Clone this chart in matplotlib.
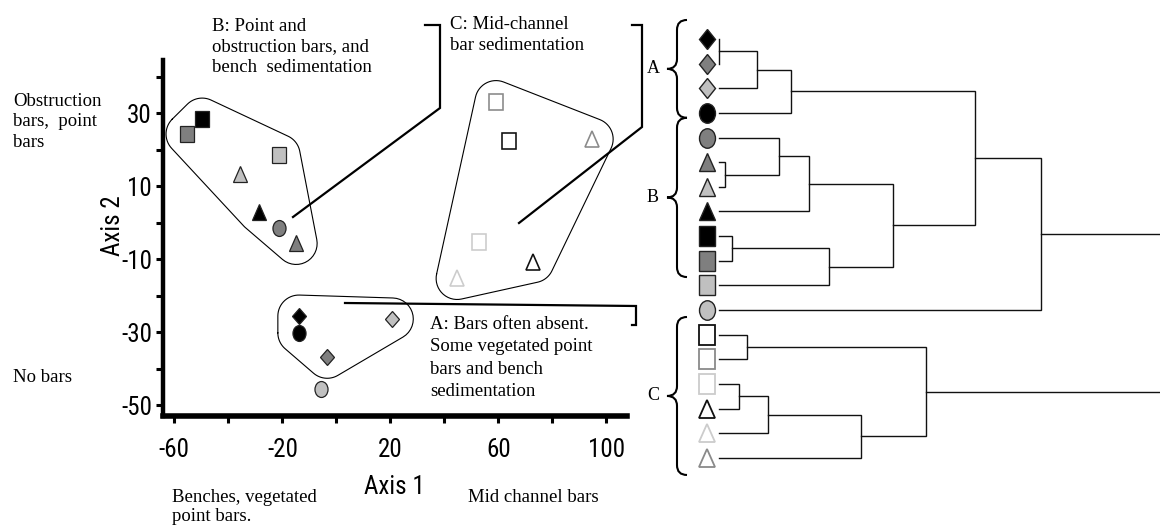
import numpy as np
import matplotlib
matplotlib.use('Agg')
import matplotlib.pyplot as plt
from matplotlib import font_manager
from matplotlib.markers import MarkerStyle
from matplotlib.transforms import Affine2D
from matplotlib.path import Path
from matplotlib.patches import PathPatch
from matplotlib.lines import Line2D

# a condensed sans for the axis numbers if one is around, else plain Liberation Sans
installed = {f.name for f in font_manager.fontManager.ttflist}
narrow = next((f for f in ['Liberation Sans Narrow', 'Arial Narrow', 'Roboto Condensed',
                           'Open Sans Condensed'] if f in installed), None)
if narrow:
    SANS, NUM_SIZE = narrow, 18
else:
    SANS, NUM_SIZE = 'Liberation Sans', 15
plt.rcParams['font.family'] = [SANS, 'DejaVu Sans']
plt.rcParams['axes.unicode_minus'] = False
SERIF = ['Liberation Serif', 'DejaVu Serif']

# ordination scores per site, same order as the dendrogram leaves (top to bottom)
axis1 = [-13.9, -3.4, 20.7, -13.9, -21.2, -14.9, -35.7, -28.6, -49.7, -55.3,
         -21.2, -5.8, 64.0, 59.1, 52.9, 72.8, 44.7, 94.7]
axis2 = [-25.6, -36.9, -26.4, -30.2, -1.5, -5.7, 13.4, 3.0, 28.4, 24.3,
         18.5, -45.5, 22.5, 33.2, -5.4, -10.7, -15.3, 22.9]
shapes = ['D', 'D', 'D', 'o', 'o', '^', '^', '^', 's', 's',
          's', 'o', 's', 's', 's', '^', '^', '^']
shades = ['black', 'dark', 'light', 'black', 'dark', 'dark', 'light', 'black', 'black', 'dark',
          'light', 'light', 'black', 'dark', 'light', 'black', 'light', 'dark']
hollow = [False] * 12 + [True] * 6
groups = ['A'] * 4 + ['B'] * 7 + [None] + ['C'] * 6

# clustering: (cluster, cluster, distance); leaves 0-17, new clusters numbered from 18
linkage = [
    (0, 1, 0.00),
    (18, 2, 0.38),
    (19, 3, 0.72),
    (5, 6, 0.06),
    (4, 21, 0.60),
    (22, 7, 0.90),
    (8, 9, 0.13),
    (24, 10, 1.10),
    (23, 25, 1.74),
    (20, 26, 2.56),
    (27, 11, 3.22),
    (12, 13, 0.28),
    (14, 15, 0.20),
    (30, 16, 0.49),
    (31, 17, 1.42),
    (29, 32, 2.07),
    (28, 33, 4.90),
]

fill = {'black': '#000000', 'dark': '#7f7f7f', 'light': '#c0c0c0'}
ring = {'black': '#111111', 'dark': '#8a8a8a', 'light': '#cccccc'}

# markers normalised to unit width, a little taller than wide
stretch = {'s': Affine2D().scale(1, 1.22),
           'o': Affine2D().scale(1, 1.22),
           '^': Affine2D().scale(1, 1.15),
           'D': Affine2D().scale(1 / np.sqrt(2), 1.22 / np.sqrt(2))}


def marker(shape):
    return MarkerStyle(shape, transform=stretch[shape])


def draw_site(ax, x, y, i, size, lw):
    if hollow[i]:
        ax.plot(x, y, marker=marker(shapes[i]), ms=size, mfc='white',
                mec=ring[shades[i]], mew=lw * 1.3, ls='none', clip_on=False, zorder=3)
    else:
        ax.plot(x, y, marker=marker(shapes[i]), ms=size, mfc=fill[shades[i]],
                mec='#222222', mew=lw, ls='none', clip_on=False, zorder=3)


def rounded_hull(ax, xs, ys, r):
    pts = ax.transData.transform(np.column_stack([xs, ys]))
    pts = sorted(map(tuple, pts))

    def cross(o, a, b):
        return (a[0] - o[0]) * (b[1] - o[1]) - (a[1] - o[1]) * (b[0] - o[0])

    lower, upper = [], []
    for p in pts:
        while len(lower) >= 2 and cross(lower[-2], lower[-1], p) <= 0:
            lower.pop()
        lower.append(p)
    for p in reversed(pts):
        while len(upper) >= 2 and cross(upper[-2], upper[-1], p) <= 0:
            upper.pop()
        upper.append(p)
    hull = np.array(lower[:-1] + upper[:-1])
    out = []
    n = len(hull)
    for i in range(n):
        p0, p1, p2 = hull[i - 1], hull[i], hull[(i + 1) % n]
        e1, e2 = p1 - p0, p2 - p1
        a1 = np.arctan2(-e1[0], e1[1])
        a2 = np.arctan2(-e2[0], e2[1])
        if a2 < a1:
            a2 += 2 * np.pi
        for t in np.linspace(a1, a2, 16):
            out.append(p1 + r * np.array([np.cos(t), np.sin(t)]))
    out.append(out[0])
    return ax.transData.inverted().transform(np.array(out))


W, H = 1160, 526
fig = plt.figure(figsize=(W / 100, H / 100), dpi=100)
px = Affine2D().scale(1 / W, -1 / H).translate(0, 1) + fig.transFigure

# ---- ordination plot ----
ax = fig.add_axes([163 / W, 1 - 416 / H, (627 - 163) / W, (416 - 60) / H])
ax.set_xlim(-64.2, 107.6)
ax.set_ylim(-53.0, 44.6)
for s in ['top', 'right']:
    ax.spines[s].set_visible(False)
ax.spines['left'].set_linewidth(3.2)
ax.spines['bottom'].set_linewidth(4.0)
ax.set_xticks([-60, -20, 20, 60, 100])
ax.set_xticks([-40, 0, 40, 80], minor=True)
ax.set_yticks([-50, -30, -10, 10, 30])
ax.set_yticks([-40, -20, 0, 20, 40], minor=True)
ax.tick_params(axis='both', which='both', direction='out', length=5, width=2.2)
ax.tick_params(axis='x', which='major', pad=11, labelsize=NUM_SIZE)
ax.tick_params(axis='y', which='major', pad=3, labelsize=NUM_SIZE)

for i in range(len(axis1)):
    draw_site(ax, axis1[i], axis2[i], i, 9.4, 0.9)

for g in ['A', 'B', 'C']:
    gx = [axis1[i] for i in range(len(axis1)) if groups[i] == g]
    gy = [axis2[i] for i in range(len(axis2)) if groups[i] == g]
    outline = rounded_hull(ax, gx, gy, 21)
    ax.plot(outline[:, 0], outline[:, 1], color='black', lw=0.8, clip_on=False, zorder=2)

fig.text(394, 487, 'Axis 1', transform=px, ha='center', va='center', fontsize=NUM_SIZE)
fig.text(113, 226, 'Axis 2', transform=px, ha='center', va='center', fontsize=NUM_SIZE,
         rotation=90)

notes = [
    (212, 47, 'B: Point and\nobstruction bars, and\nbench  sedimentation', 1.3),
    (450, 35, 'C: Mid-channel\nbar sedimentation', 1.3),
    (430, 358, 'A: Bars often absent.\nSome vegetated point\nbars and bench\nsedimentation', 1.4),
    (13, 122, 'Obstruction\nbars,  point\nbars', 1.3),
    (13, 377, 'No bars', 1.3),
    (172, 507, 'Benches, vegetated\npoint bars.', 1.2),
    (468, 497, 'Mid channel bars', 1.3),
]
for x, y, s, ls in notes:
    fig.text(x, y, s, transform=px, ha='left', va='center', family=SERIF,
             fontsize=13.5, linespacing=ls)

leaders = [
    ([293, 440, 440, 425], [217, 108, 25, 25]),
    ([519, 642, 642, 632], [223, 127, 25, 25]),
    ([345, 636, 636, 632], [303, 306, 325, 325]),
]
for xs, ys in leaders:
    fig.add_artist(Line2D(xs, ys, transform=px, color='black', lw=1.6,
                          solid_joinstyle='miter'))

# ---- dendrogram ----
dx = fig.add_axes([640 / W, 0, 520 / W, 1])
dx.set_xlim(-0.79, 4.41)
dx.set_ylim(19.76, -1.58)
dx.axis('off')

n = len(axis1)
node_x = {i: 0.0 for i in range(n)}
node_y = {i: float(i) for i in range(n)}
for k, (a, b, h) in enumerate(linkage):
    dx.plot([node_x[a], h, h, node_x[b]], [node_y[a], node_y[a], node_y[b], node_y[b]],
            color='#111111', lw=1.0, solid_joinstyle='miter', clip_on=True)
    node_x[n + k] = h
    node_y[n + k] = (node_y[a] + node_y[b]) / 2

for i in range(n):
    draw_site(dx, -0.12, i, i, 11.5, 1.0)

braces = [('A', -0.77, 3.2), ('B', 3.2, 9.66), ('C', 11.28, 17.69)]
xe, xs_, xt = -0.32, -0.42, -0.52
for lab, y0, y1 in braces:
    ym = (y0 + y1) / 2
    c = 0.4
    verts = [(xe, y0), (xs_, y0), (xs_, y0 + c), (xs_, ym - c), (xs_, ym), (xt, ym),
             (xs_, ym), (xs_, ym + c), (xs_, y1 - c), (xs_, y1), (xe, y1)]
    codes = [Path.MOVETO, Path.CURVE3, Path.CURVE3, Path.LINETO, Path.CURVE3, Path.CURVE3,
             Path.CURVE3, Path.CURVE3, Path.LINETO, Path.CURVE3, Path.CURVE3]
    dx.add_patch(PathPatch(Path(verts, codes), fill=False, lw=1.5, color='black',
                           clip_on=False))
    dx.text(-0.66, ym, lab, ha='center', va='center', family=SERIF, fontsize=13)

fig.savefig('out.png', dpi=100)
